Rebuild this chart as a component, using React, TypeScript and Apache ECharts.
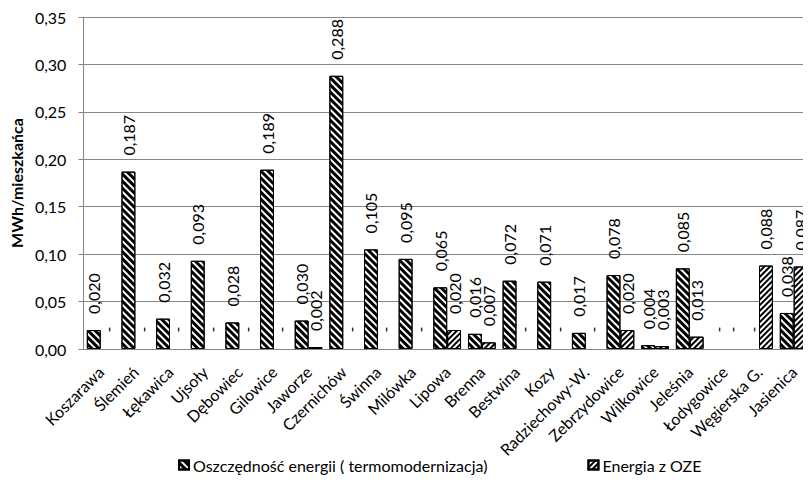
import React, { useEffect, useRef } from "react";
import * as echarts from "echarts";

const categories = [
  "Koszarawa", "Ślemień", "Łękawica", "Ujsoły", "Dębowiec", "Gilowice", "Jaworze",
  "Czernichów", "Świnna", "Milówka", "Lipowa", "Brenna", "Bestwina", "Kozy",
  "Radziechowy-W.", "Zebrzydowice", "Wilkowice", "Jeleśnia", "Łodygowice",
  "Węgierska G.", "Jasienica",
];

const termomodernizacja: (number | null)[] = [
  0.020, 0.187, 0.032, 0.093, 0.028, 0.189, 0.030, 0.288, 0.105, 0.095, 0.065,
  0.016, 0.072, 0.071, 0.017, 0.078, 0.004, 0.085, null, null, 0.038,
];

const oze: (number | null)[] = [
  null, null, null, null, null, null, 0.002, null, null, null, 0.020,
  0.007, null, null, null, 0.020, 0.003, 0.013, null, 0.088, 0.087,
];

const yTicks = { min: 0, max: 0.35, interval: 0.05 };

const seriesNames = ["Oszczędność energii ( termomodernizacja)", "Energia z OZE"];

const FONT = "Lato";

function buildData(values: (number | null)[]) {
  return values.map((v) =>
    v === null
      ? {
          value: 0,
          itemStyle: { color: "transparent", borderColor: "transparent", decal: "none" },
          label: { formatter: "-", color: "#000" },
        }
      : { value: v }
  );
}

const fmt3 = (v: number) => v.toFixed(3).replace(".", ",");

export default function App() {
  const ref = useRef<HTMLDivElement>(null);
  useEffect(() => {
    if (!ref.current) return;
    const chart = echarts.init(ref.current, undefined, { renderer: "svg" });
    const labelCfg = {
      show: true,
      position: "top",
      rotate: 90,
      align: "left",
      verticalAlign: "middle",
      distance: 16,
      fontFamily: FONT,
      fontSize: 16,
      color: "#000",
      formatter: (p: any) => fmt3(p.value),
    };
    chart.setOption({
      animation: false,
      backgroundColor: "#fff",
      textStyle: { fontFamily: FONT },
      grid: { left: 80, top: 17, bottom: 134, right: -8, containLabel: false },
      legend: {
        left: 178,
        top: 456,
        padding: 0,
        itemWidth: 10,
        itemHeight: 9,
        itemGap: 100,
        icon: "rect",
        textStyle: { fontFamily: FONT, fontSize: 16, lineHeight: 18, color: "#000", padding: [0, 0, 0, -1] },
        data: seriesNames,
      },
      xAxis: {
        type: "category",
        data: categories,
        axisLine: { lineStyle: { color: "#868686", width: 1 } },
        axisTick: { show: false },
        axisLabel: {
          interval: 0,
          rotate: 45,
          margin: 20,
          fontFamily: FONT,
          fontSize: 16,
          color: "#000",
        },
      },
      yAxis: {
        type: "value",
        min: yTicks.min,
        max: yTicks.max,
        interval: yTicks.interval,
        name: "MWh/mieszkańca",
        nameLocation: "middle",
        nameGap: 58,
        nameTextStyle: { fontFamily: FONT, fontSize: 16, fontWeight: "bold", color: "#000" },
        axisLine: { show: true, lineStyle: { color: "#868686", width: 1 } },
        axisTick: { show: true, length: 5, lineStyle: { color: "#868686" } },
        splitLine: { lineStyle: { color: "#868686", width: 1 } },
        axisLabel: {
          margin: 17,
          fontFamily: FONT,
          fontSize: 16,
          color: "#000",
          formatter: (v: number) => v.toFixed(2).replace(".", ","),
        },
      },
      series: [
        {
          name: seriesNames[0],
          type: "bar",
          barGap: "0%",
          barCategoryGap: "20%",
          data: buildData(termomodernizacja),
          itemStyle: {
            color: "#fff",
            borderColor: "#000",
            borderWidth: 1,
            decal: {
              symbol: "rect",
              symbolSize: 1,
              color: "#000",
              dashArrayX: [1, 0],
              dashArrayY: [3, 2],
              rotation: Math.PI / 4,
            },
          },
          label: labelCfg,
        },
        {
          name: seriesNames[1],
          type: "bar",
          barGap: "0%",
          barCategoryGap: "20%",
          data: buildData(oze),
          itemStyle: {
            color: "#fff",
            borderColor: "#000",
            borderWidth: 1,
            decal: {
              symbol: "rect",
              symbolSize: 1,
              color: "#000",
              dashArrayX: [1, 0],
              dashArrayY: [1.2, 1.6],
              rotation: -Math.PI / 4,
            },
          },
          label: labelCfg,
        },
      ],
    });
    return () => chart.dispose();
  }, []);
  return <div ref={ref} style={{ width: 811, height: 483, margin: -8 }} />;
}
